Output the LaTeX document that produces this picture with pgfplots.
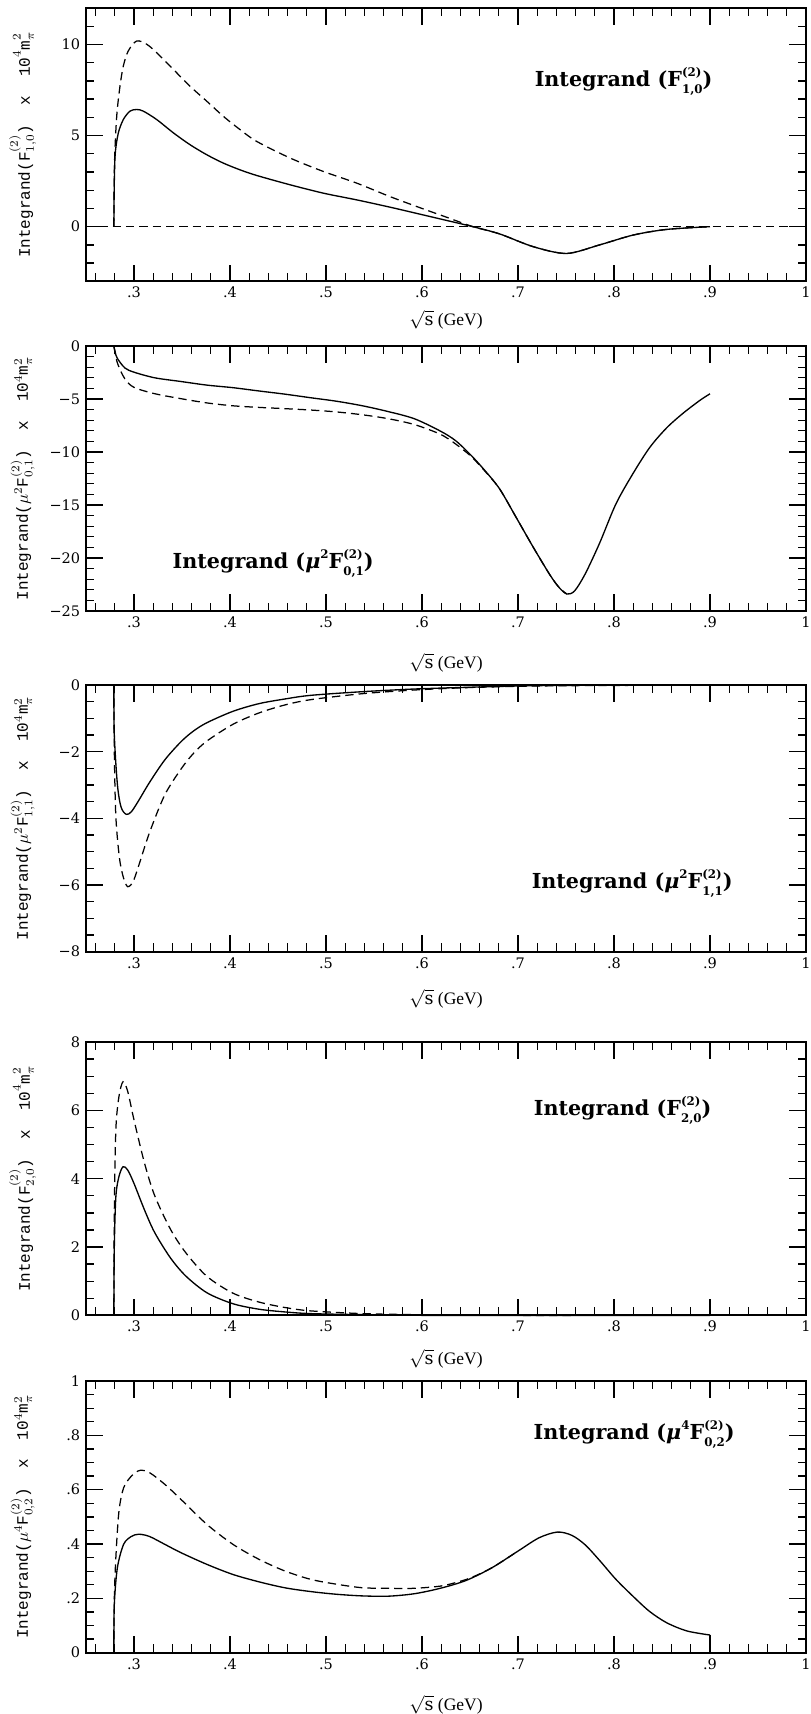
\documentclass[border=0pt]{standalone}
\usepackage{fontspec}
\setmainfont{DejaVu Serif}
\setmonofont{Liberation Mono}
\newfontfamily\timesf{Liberation Serif}
\usepackage{pgfplots}
\pgfplotsset{compat=1.18}

% small bold text for the sub/superscripts of the panel titles
\newcommand{\sm}[1]{\mbox{\fontsize{7.1}{7.1}\selectfont\bfseries #1}}
\newcommand{\up}[1]{\raisebox{6.3pt}{\sm{#1}}}
\newcommand{\supsub}[2]{\rlap{\up{#1}}\raisebox{-4.0pt}{\sm{#2}}}
\newcommand{\ttl}[1]{\fontsize{12.4}{14}\selectfont\bfseries #1}

\pgfplotsset{
  panel/.style={
    width=432pt, height=#1, scale only axis,
    xmin=0.25, xmax=1,
    xtick={0.3,0.4,0.5,0.6,0.7,0.8,0.9,1},
    xticklabels={.3,.4,.5,.6,.7,.8,.9,1},
    minor xtick={0.26,0.28,...,0.99},
    tick align=inside,
    major tick length=10pt, minor tick length=5pt,
    every tick/.style={black, line width=0.8pt},
    axis line style={line width=1.1pt},
    tick label style={font=\fontsize{8.7}{10}\selectfont},
    /pgf/number format/assume math mode=true,
    xlabel={$\sqrt{\mathrm{s}}$\ (GeV)},
    xlabel style={font=\timesf\fontsize{10.5}{12}\selectfont, at={(axis description cs:0.5,0)}, anchor=center},
    ylabel style={font=\ttfamily\fontsize{9.6}{12}\selectfont, at={(axis description cs:-0.088,0.5)}, anchor=center},
    clip=false,
  },
  sol/.style={black, line width=0.8pt, smooth, tension=0.5},
  das/.style={black, line width=0.75pt, smooth, tension=0.5, dash pattern=on 5pt off 3pt},
}

\begin{document}
\begin{tikzpicture}
\path[use as bounding box] (0,0) rectangle (486.6pt,-1028.4pt);

% ---- panel 1
\begin{axis}[panel=164pt, at={(51.6pt,-4.8pt)}, anchor=north west,
  ymin=-3, ymax=12, ytick={0,5,10}, yticklabels={0,5,10},
  minor ytick={-3,-2,...,12},
  xlabel style={yshift=-23pt},
  ylabel={Integrand(F$^{(2)}_{1,0}$)\ \ x\ \ 10$^4$m$_\pi^2$}]
\addplot[black, line width=0.6pt, dash pattern=on 5pt off 3pt] coordinates {(0.25,0) (1,0)};
\addplot[sol] coordinates {
(0.279,0) (0.2795,2.5) (0.2805,4.04) (0.2837,5.15) (0.2889,5.88) (0.2958,6.34) (0.3028,6.43)
(0.3097,6.34) (0.3236,5.88) (0.341,5.15) (0.3583,4.5) (0.3757,3.95) (0.393,3.49)
(0.4104,3.12) (0.4278,2.81) (0.4625,2.3) (0.4972,1.84) (0.532,1.47) (0.5667,1.07)
(0.6,0.66) (0.625,0.35) (0.653,0) (0.681,-0.4) (0.716,-1.1) (0.7507,-1.47) (0.785,-1.0)
(0.82,-0.46) (0.855,-0.15) (0.9,0)};
\addplot[das] coordinates {
(0.279,0) (0.2797,3.5) (0.282,6.06) (0.2854,7.71) (0.2889,8.82) (0.294,9.64) (0.3028,10.19)
(0.3132,10.01) (0.3236,9.55) (0.341,8.63) (0.3583,7.71) (0.3757,6.89) (0.393,6.06)
(0.4104,5.33) (0.4278,4.68) (0.4625,3.77) (0.4972,3.03) (0.532,2.39) (0.5667,1.65)
(0.6,1.0) (0.625,0.53) (0.653,0) (0.681,-0.4) (0.716,-1.1) (0.7507,-1.47) (0.785,-1.0)
(0.82,-0.46) (0.855,-0.15) (0.9,0)};
\node at (axis cs:0.81,7.98) {\ttl{Integrand (F\supsub{(2)}{1,0})}};
\end{axis}

% ---- panel 2
\begin{axis}[panel=159pt, at={(51.6pt,-207.6pt)}, anchor=north west,
  ymin=-25, ymax=0, ytick={-25,-20,-15,-10,-5,0},
  yticklabels={−25,−20,−15,−10,−5,0},
  minor ytick={-25,-24,...,0},
  xlabel style={yshift=-31pt},
  ylabel={Integrand($\mu^2$F$^{(2)}_{0,1}$)\ \ x\ \ 10$^4$m$_\pi^2$}]
\addplot[sol] coordinates {
(0.279,0) (0.2805,-0.6) (0.2826,-1.16) (0.2905,-2.07) (0.3,-2.47) (0.3216,-3.0) (0.349,-3.35)
(0.376,-3.69) (0.403,-3.93) (0.43,-4.24) (0.457,-4.54) (0.484,-4.88) (0.511,-5.21)
(0.538,-5.64) (0.565,-6.19) (0.592,-6.86) (0.619,-8.02) (0.635,-8.93) (0.651,-10.3)
(0.666,-11.8) (0.681,-13.5) (0.6986,-16.25) (0.716,-19.0) (0.7333,-21.6) (0.743,-22.8)
(0.751,-23.4) (0.759,-23.1) (0.77,-21.5) (0.785,-18.6) (0.802,-14.9) (0.82,-12.0)
(0.8375,-9.54) (0.855,-7.71) (0.872,-6.34) (0.8896,-5.12) (0.9,-4.51)};
\addplot[das] coordinates {
(0.279,0) (0.2827,-1.6) (0.2905,-3.1) (0.3,-3.9) (0.3216,-4.5) (0.349,-4.97) (0.376,-5.37)
(0.403,-5.64) (0.43,-5.79) (0.457,-5.91) (0.484,-6.04) (0.511,-6.22) (0.538,-6.49)
(0.565,-6.86) (0.592,-7.41) (0.619,-8.32) (0.635,-9.24) (0.651,-10.4) (0.666,-11.85)
(0.681,-13.5) (0.6986,-16.25) (0.716,-19.0) (0.7333,-21.6) (0.743,-22.8) (0.751,-23.4)};
\node at (axis cs:0.445,-20.5) {\ttl{Integrand (\textit{μ}\up{2}F\supsub{(2)}{0,1})}};
\end{axis}

% ---- panel 3
\begin{axis}[panel=160pt, at={(51.6pt,-411pt)}, anchor=north west,
  ymin=-8, ymax=0, ytick={-8,-6,-4,-2,0},
  yticklabels={−8,−6,−4,−2,0},
  minor ytick={-8,-7.5,...,0},
  xlabel style={yshift=-28pt},
  ylabel={Integrand($\mu^2$F$^{(2)}_{1,1}$)\ \ x\ \ 10$^4$m$_\pi^2$}]
\addplot[sol] coordinates {
(0.279,0) (0.2795,-1.5) (0.2827,-2.98) (0.2865,-3.66) (0.2919,-3.88) (0.2973,-3.8)
(0.305,-3.46) (0.316,-2.93) (0.332,-2.25) (0.349,-1.70) (0.362,-1.38) (0.376,-1.13)
(0.403,-0.79) (0.43,-0.56) (0.457,-0.42) (0.484,-0.31) (0.538,-0.2) (0.592,-0.12)
(0.646,-0.07) (0.7,-0.03) (0.754,-0.01) (0.9,0)};
\addplot[das] coordinates {
(0.279,0) (0.2795,-2) (0.2811,-3.95) (0.2849,-5.2) (0.2892,-5.8) (0.2935,-6.05) (0.299,-5.9)
(0.305,-5.41) (0.316,-4.44) (0.332,-3.3) (0.349,-2.52) (0.362,-2.05) (0.376,-1.68)
(0.403,-1.18) (0.43,-0.84) (0.457,-0.6) (0.484,-0.44) (0.538,-0.26) (0.592,-0.15)
(0.646,-0.08) (0.7,-0.04) (0.754,-0.02) (0.9,0)};
\node at (axis cs:0.819,-5.95) {\ttl{Integrand (\textit{μ}\up{2}F\supsub{(2)}{1,1})}};
\end{axis}

% ---- panel 4
\begin{axis}[panel=164pt, at={(51.6pt,-625.2pt)}, anchor=north west,
  ymin=0, ymax=8, ytick={0,2,4,6,8}, yticklabels={0,2,4,6,8},
  minor ytick={0,0.5,...,8},
  xlabel style={yshift=-26pt},
  ylabel={Integrand(F$^{(2)}_{2,0}$)\ \ x\ \ 10$^4$m$_\pi^2$}]
\addplot[sol] coordinates {
(0.279,0) (0.2795,2.0) (0.2811,3.47) (0.2843,4.06) (0.2886,4.35) (0.2935,4.25) (0.3,3.86)
(0.311,3.08) (0.3216,2.42) (0.338,1.68) (0.354,1.15) (0.376,0.66) (0.403,0.34) (0.43,0.18)
(0.457,0.1) (0.484,0.05) (0.538,0.02) (0.6,0.0) (0.9,0)};
\addplot[das] coordinates {
(0.279,0) (0.2795,3.0) (0.2811,5.43) (0.2843,6.4) (0.2886,6.84) (0.2935,6.55) (0.3,5.72)
(0.311,4.45) (0.3216,3.5) (0.338,2.52) (0.354,1.83) (0.376,1.14) (0.403,0.65) (0.43,0.39)
(0.457,0.23) (0.484,0.13) (0.538,0.05) (0.592,0.02) (0.646,0.0) (0.9,0)};
\node at (axis cs:0.809,6.0) {\ttl{Integrand (F\supsub{(2)}{2,0})}};
\end{axis}

% ---- panel 5
\begin{axis}[panel=163pt, at={(51.6pt,-828.6pt)}, anchor=north west,
  ymin=0, ymax=1, ytick={0,0.2,0.4,0.6,0.8,1}, yticklabels={0,.2,.4,.6,.8,1},
  minor ytick={0,0.05,...,1},
  xlabel style={yshift=-31pt},
  ylabel={Integrand($\mu^4$F$^{(2)}_{0,2}$)\ \ x\ \ 10$^4$m$_\pi^2$}]
\addplot[sol] coordinates {
(0.279,0) (0.2795,0.178) (0.2827,0.313) (0.2892,0.399) (0.2973,0.428) (0.305,0.436)
(0.316,0.428) (0.332,0.399) (0.349,0.368) (0.376,0.325) (0.403,0.288) (0.43,0.261)
(0.457,0.239) (0.484,0.225) (0.511,0.215) (0.538,0.209) (0.565,0.208) (0.592,0.217)
(0.619,0.237) (0.646,0.266) (0.673,0.313) (0.7,0.374) (0.722,0.423) (0.741,0.444)
(0.756,0.432) (0.77,0.397) (0.7854,0.338) (0.802,0.27) (0.82,0.207) (0.837,0.152)
(0.855,0.11) (0.876,0.08) (0.9,0.065)};
\addplot[black, line width=0.8pt] coordinates {(0.9,0.065) (0.9,0)};
\addplot[das] coordinates {
(0.279,0) (0.2795,0.2) (0.2811,0.35) (0.2843,0.52) (0.2892,0.607) (0.2973,0.65) (0.306,0.671)
(0.316,0.663) (0.332,0.62) (0.349,0.564) (0.376,0.472) (0.403,0.399) (0.43,0.344)
(0.457,0.301) (0.484,0.27) (0.511,0.252) (0.538,0.239) (0.565,0.237) (0.592,0.237)
(0.619,0.245) (0.635,0.258) (0.651,0.276) (0.673,0.313) (0.7,0.374)};
\node at (axis cs:0.821,0.804) {\ttl{Integrand (\textit{μ}\up{4}F\supsub{(2)}{0,2})}};
\end{axis}
\end{tikzpicture}
\end{document}
